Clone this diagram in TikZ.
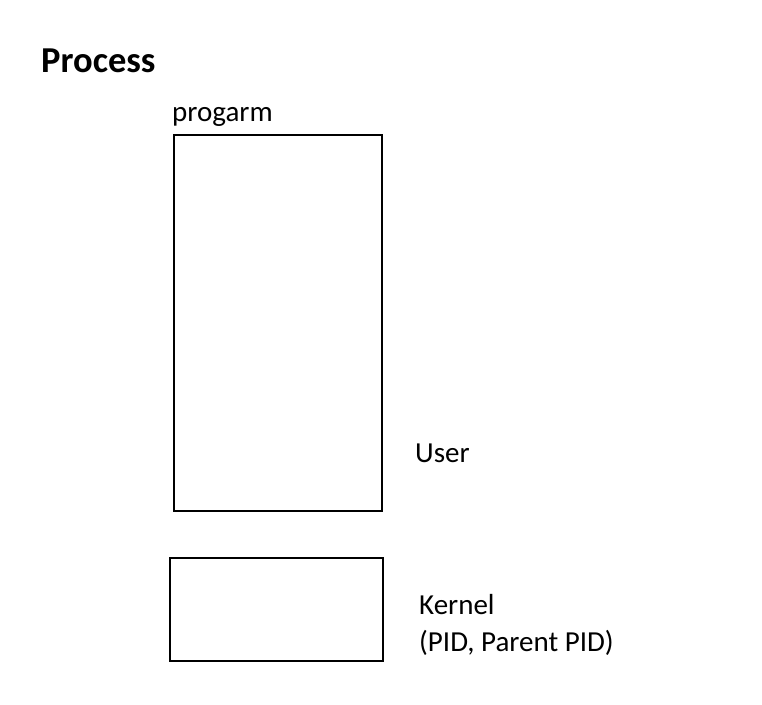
\documentclass[tikz,border=0pt]{standalone}
\usepackage{fontspec}
\setmainfont{Carlito}
\usepackage{tikz}
\begin{document}
\begin{tikzpicture}[x=1pt,y=-1pt,
    box/.style={draw,line width=2.6pt},
    lbl/.style={anchor=base west,inner sep=0pt,font=\fontsize{29}{37}\selectfont}]
        \useasboundingbox (0,0) rectangle (762,704);
        % title
        \node[anchor=base west,inner sep=0pt,font=\fontsize{36.5}{40}\selectfont\bfseries] (title) at (41,72) {Process};
        % user part
        \draw[box] (174,135) rectangle (382,511);
        \node[lbl] (prog) at (172,121) {progarm};
        \node[lbl] (user) at (415,462) {User};
        % kernel part
        \draw[box] (170,558) rectangle (383,661);
        \node[lbl,align=left] (kernel) at (419,651) {Kernel\\(PID, Parent PID)};
    \end{tikzpicture}
\end{document}
